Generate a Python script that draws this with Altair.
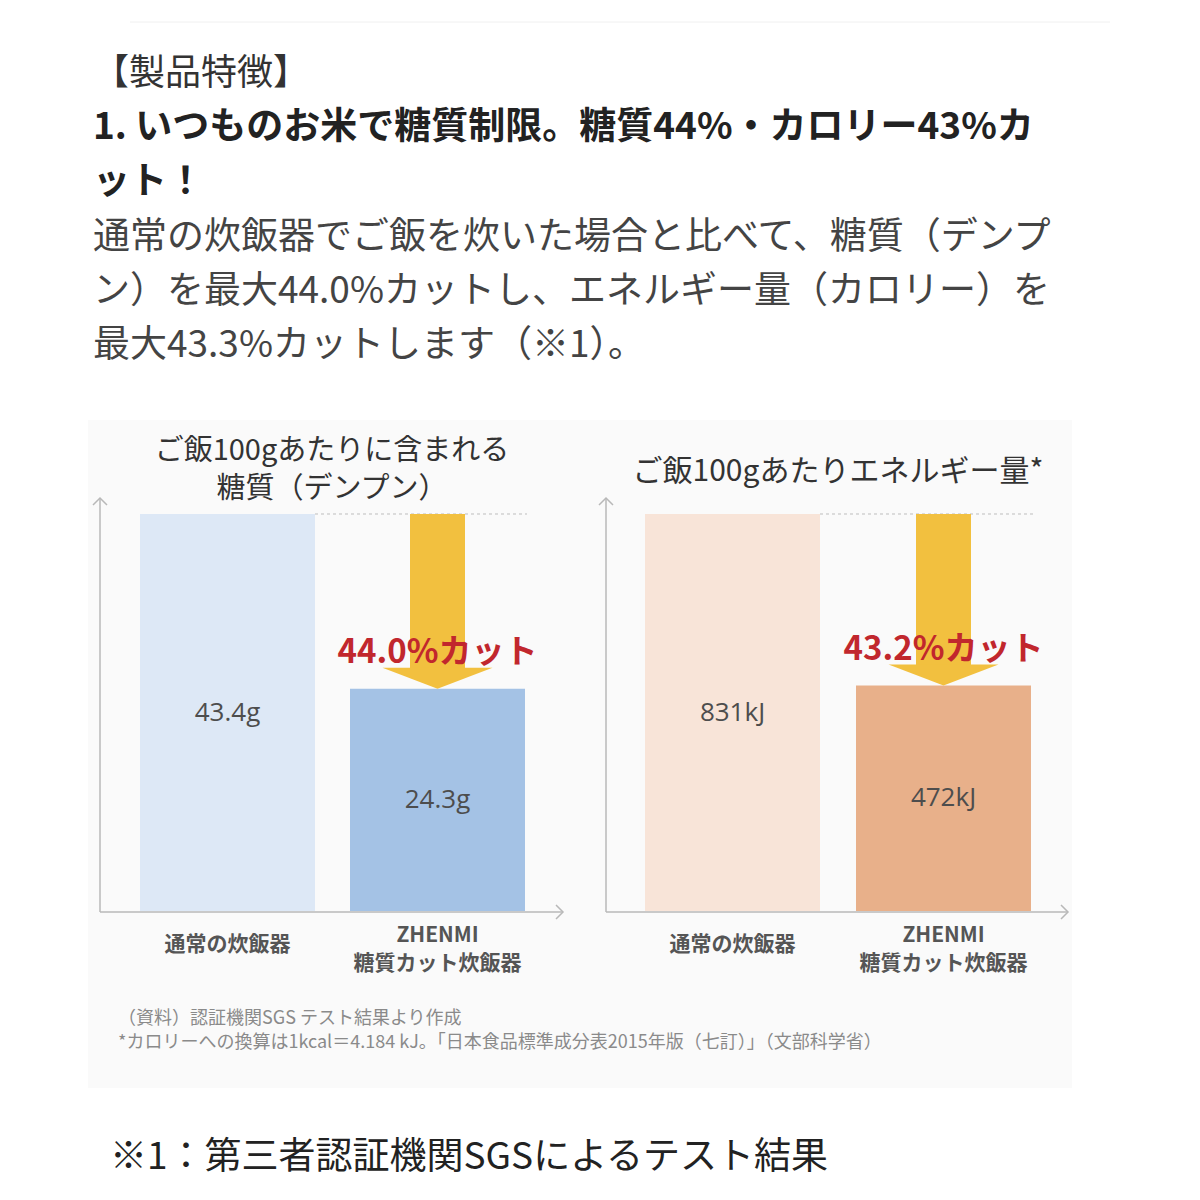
import altair as alt
import pandas as pd

# ---------------- data ----------------
categories = ["通常の炊飯器", "ZHENMI\n糖質カット炊飯器"]
starch_values = [43.4, 24.3]
starch_labels = ["43.4g", "24.3g"]
energy_values = [831, 472]
energy_labels = ["831kJ", "472kJ"]
cut_labels = ["44.0%カット", "43.2%カット"]

header_lines = ["【製品特徴】"]
bold_lines = ["1. いつものお米で糖質制限。糖質44%・カロリー43%カ", "ット！"]
body_lines = [
    "通常の炊飯器でご飯を炊いた場合と比べて、糖質（デンプ",
    "ン）を最大44.0%カットし、エネルギー量（カロリー）を",
    "最大43.3%カットします（※1）。",
]
left_title = ["ご飯100gあたりに含まれる", "糖質（デンプン）"]
right_title = ["ご飯100gあたりエネルギー量*"]
source_lines = [
    "（資料）認証機関SGS テスト結果より作成",
    "*カロリーへの換算は1kcal＝4.184 kJ。「日本食品標準成分表2015年版（七訂）」（文部科学省）",
]
bottom_note = "※1：第三者認証機関SGSによるテスト結果"

JP = "Noto Sans CJK JP"
ONE = alt.Data(values=[{}])


def txt(s, x, y, size, color="#333", weight="normal", align="left", font=JP):
    return alt.Chart(ONE).mark_text(
        text=s, font=font, fontSize=size, fontWeight=weight, color=color,
        align=align, baseline="middle",
    ).encode(x=alt.value(x), y=alt.value(y))


def vline(x, y1, y2, color="#b8b8b8", w=1.5):
    return alt.Chart(ONE).mark_rule(color=color, strokeWidth=w).encode(
        x=alt.value(x), y=alt.value(y1), y2=alt.value(y2))


def hline(y, x1, x2, color="#b8b8b8", w=1.5):
    return alt.Chart(ONE).mark_rule(color=color, strokeWidth=w).encode(
        y=alt.value(y), x=alt.value(x1), x2=alt.value(x2))


def chevron(x, y, path):
    return alt.Chart(ONE).mark_point(
        shape=path, size=196, filled=False, color="#b8b8b8", strokeWidth=1.5, opacity=1
    ).encode(x=alt.value(x), y=alt.value(y))


def panel(values, labels, cut, xr, pad_inner, yr, colors, dash_x):
    df = pd.DataFrame({"cat": categories, "val": values, "label": labels})
    arrow = pd.DataFrame({"cat": [categories[1]], "top": [values[0]],
                          "bottom": [values[1]], "cut": [cut]})
    ymax = max(values)

    def X():
        return alt.X("cat:N", sort=categories,
                     scale=alt.Scale(type="band", domain=categories, range=xr,
                                     paddingInner=pad_inner, paddingOuter=0),
                     axis=None)

    def Y(field):
        return alt.Y(f"{field}:Q",
                     scale=alt.Scale(domain=[0, ymax], range=yr, nice=False, zero=True),
                     axis=None)

    bars = alt.Chart(df).mark_bar().encode(
        x=X(), y=Y("val"),
        color=alt.Color("cat:N", scale=alt.Scale(domain=categories, range=colors),
                        legend=None),
    )
    vals = alt.Chart(df).transform_calculate(mid="datum.val / 2").mark_text(
        font="Open Sans", fontSize=26, color="#4d4d4d", baseline="middle"
    ).encode(x=X(), y=Y("mid"), text="label:N")
    cat_style = dict(font=JP, fontSize=21, fontWeight="bold", color="#555",
                     baseline="middle", lineBreak="\n", lineHeight=28)
    cat_a = alt.Chart(df).transform_filter(alt.datum.cat == categories[0]).mark_text(
        **cat_style).encode(x=X(), y=alt.value(937), text="cat:N")
    cat_b = alt.Chart(df).transform_filter(alt.datum.cat == categories[1]).mark_text(
        **cat_style).encode(x=X(), y=alt.value(928), text="cat:N")
    dash = alt.Chart(arrow).mark_rule(color="#bdbdbd", strokeDash=[3, 3], strokeWidth=1).encode(
        x=alt.value(dash_x[0]), x2=alt.value(dash_x[1]), y=Y("top"))
    shaft = alt.Chart(arrow).mark_bar(width=55, color="#f2c03f", y2Offset=-20).encode(
        x=X(), y=Y("top"), y2=alt.Y2("bottom"))
    head = alt.Chart(arrow).mark_point(
        shape="M-1,-0.19L1,-0.19L0,0.19Z", size=12100, filled=True,
        color="#f2c03f", opacity=1, strokeWidth=0, yOffset=-10.5,
    ).encode(x=X(), y=Y("bottom"))
    cut_txt = alt.Chart(arrow).mark_text(
        font=JP, fontSize=33, fontWeight="bold", color="#c1272d", baseline="middle", dy=-36,
    ).encode(x=X(), y=Y("bottom"), text="cut:N")
    return [bars, dash, shaft, head, cut_txt, vals, cat_a, cat_b]


bg = alt.Chart(ONE).mark_rect(color="#fafafa").encode(
    x=alt.value(80), x2=alt.value(1064), y=alt.value(412), y2=alt.value(1080))

layers = [bg, hline(14, 122, 1102, color="#f0f0f0", w=1)]

# header text
layers.append(txt(header_lines[0], 85, 66, 36, color="#333"))
for i, s in enumerate(bold_lines):
    layers.append(txt(s, 85, 120 + i * 55, 37, color="#222", weight="bold"))
for i, s in enumerate(body_lines):
    layers.append(txt(s, 85, 230 + i * 54, 37, color="#444"))

# panel titles
for i, s in enumerate(left_title):
    layers.append(txt(s, 324, 443 + i * 38, 29, color="#333", align="center"))
layers.append(txt(right_title[0], 830, 464, 30, color="#333", align="center"))

# axes
up = "M-1,1L0,0L1,1"
right = "M-1,-1L0,0L-1,1"
for x0, x1 in [(92, 555), (598, 1060)]:
    layers += [vline(x0, 490, 904), hline(904, x0, x1), chevron(x0, 490, up), chevron(x1, 904, right)]

layers += panel(starch_values, starch_labels, cut_labels[0], [132, 517], 35 / 210,
                [903, 506], ["#dde8f6", "#a4c2e5"], [307, 519])
layers += panel(energy_values, energy_labels, cut_labels[1], [637, 1023], 36 / 211,
                [903, 506], ["#f8e4d8", "#e8b08a"], [812, 1025])

# footnotes
for i, s in enumerate(source_lines):
    layers.append(txt(s, 110, 1011 + i * 24, 18, color="#8a8a8a"))
layers.append(txt(bottom_note, 102, 1150, 37, color="#222"))

chart = alt.layer(*layers).resolve_scale(
    x="independent", y="independent", color="independent"
).properties(
    width=1184, height=1184, padding=0, autosize=alt.AutoSizeParams(type="none"),
    background="white",
).configure_view(stroke=None)

chart.save("out.html", embed_options={"renderer": "svg", "actions": False})
